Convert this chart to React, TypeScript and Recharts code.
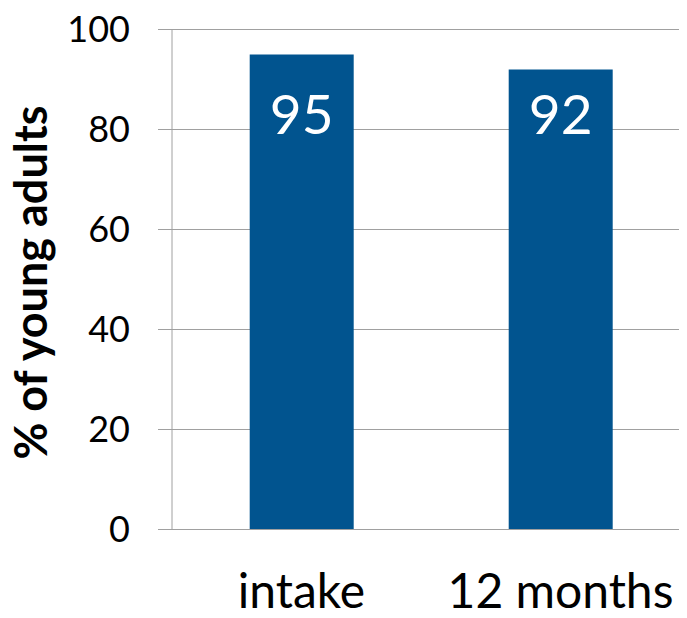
import React from "react";
import { BarChart, Bar, XAxis, YAxis, CartesianGrid, LabelList, Label } from "recharts";

const categories: string[] = ["intake", "12 months"];
const values: number[] = [95, 92];
const yTicks: number[] = [0, 20, 40, 60, 80, 100];
const yLabel = "% of young adults";

const data = categories.map((c, i) => ({ name: c, value: values[i] }));

const GRID = "#a0a0a0";
const BAR = "#01548f";
const FONT = "Lato, 'Open Sans', sans-serif";

const BarValueLabel = (props: any) => {
  const { x, y, width, height, value } = props;
  const bottom = Number(y) + Number(height);
  return (
    <text
      x={Number(x) + Number(width) / 2}
      y={bottom - 396}
      textAnchor="middle"
      fill="#ffffff"
      fontSize={55}
      fontFamily={FONT}
    >
      {value}
    </text>
  );
};

const CategoryTick = (props: any) => {
  const { x, y, payload } = props;
  return (
    <text
      x={x}
      y={Number(y) + 78}
      textAnchor="middle"
      fill="#000"
      fontSize={48}
      fontFamily={FONT}
    >
      {payload.value}
    </text>
  );
};

const YTitle = (props: any) => {
  const vb = props.viewBox || {};
  const cy = Number(vb.y) + Number(vb.height) / 2 + 3;
  const x = 47;
  return (
    <text
      x={x}
      y={cy}
      transform={`rotate(-90, ${x}, ${cy})`}
      textAnchor="middle"
      fill="#000"
      fontSize={45}
      fontWeight="bold"
      fontFamily={FONT}
    >
      {yLabel}
    </text>
  );
};

export default function App() {
  return (
    <div style={{ margin: -8, width: 687, height: 618, overflow: "hidden", background: "#fff" }}>
      <BarChart
        width={690}
        height={618}
        data={data}
        margin={{ top: 29.5, right: 0, bottom: 0, left: 0 }}
        barCategoryGap="30%"
        style={{ fontFamily: FONT }}
      >
        <CartesianGrid vertical={false} stroke={GRID} strokeWidth={1} />
        <XAxis
          dataKey="name"
          height={88.5}
          tickLine={false}
          tickSize={0}
          tickMargin={0}
          axisLine={{ stroke: GRID }}
          tick={<CategoryTick />}
          interval={0}
        />
        <YAxis
          width={172}
          domain={[0, 100]}
          ticks={yTicks}
          interval={0}
          tickSize={14}
          tickMargin={28}
          tickLine={{ stroke: GRID }}
          axisLine={{ stroke: GRID }}
          tick={{ fill: "#000", fontSize: 36, fontFamily: FONT }}
        >
          <Label content={<YTitle />} />
        </YAxis>
        <Bar dataKey="value" fill={BAR} isAnimationActive={false}>
          <LabelList dataKey="value" content={<BarValueLabel />} />
        </Bar>
      </BarChart>
    </div>
  );
}
